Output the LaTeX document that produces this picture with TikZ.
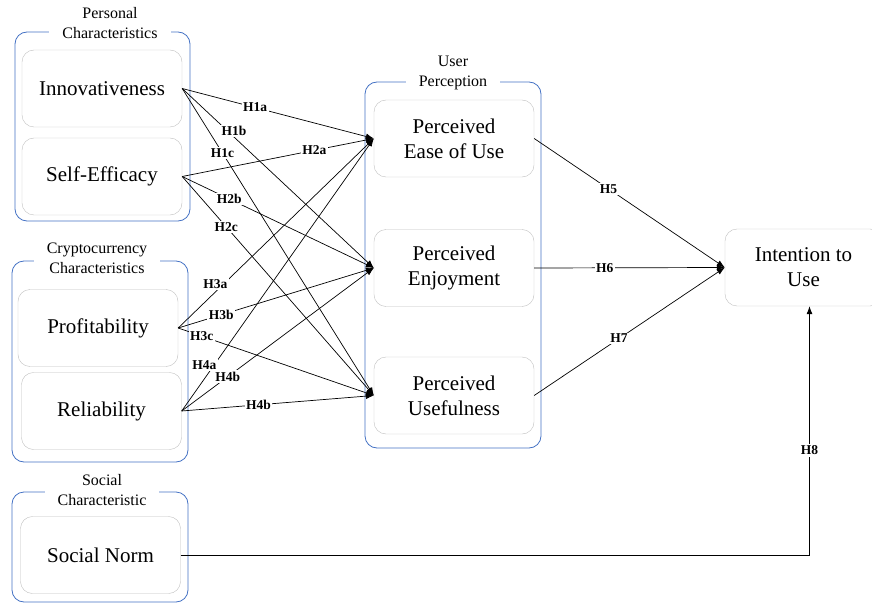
\documentclass[tikz,border=0pt]{standalone}
\usepackage{fontspec}
\setmainfont{Liberation Serif}
\usetikzlibrary{positioning, arrows.meta}
\definecolor{groupblue}{RGB}{68,114,196}

\begin{document}
\begin{tikzpicture}[
        x=1pt, y=-1pt,
        factor/.style={
            rectangle,
            rounded corners=12pt,
            draw=gray!50,
            minimum width=160pt,
            minimum height=77pt,
            align=center,
            inner sep=2pt,
            font=\fontsize{21}{25}\selectfont
        },
        groupbox/.style={draw=groupblue, rounded corners=12pt, line width=0.8pt},
        grouptitle/.style={fill=white, align=center, inner xsep=13pt, inner ysep=0pt,
            font=\fontsize{16}{20}\selectfont},
        hyp/.style={fill=white, inner sep=1.5pt, font=\fontsize{13.5}{15}\bfseries\selectfont},
        arrow/.style={-{Latex[length=8pt,width=6pt]}, line width=0.7pt}
    ]
    \useasboundingbox (0,0) rectangle (872,604);

    % --- Groups ---
    \draw[groupbox] (15,32) rectangle (190,221);
    \node[grouptitle] (personal) at (110,23) {Personal\\Characteristics};

    \draw[groupbox] (12,261) rectangle (188,462);
    \node[grouptitle] (crypto) at (97,258) {Cryptocurrency\\Characteristics};

    \draw[groupbox] (12,492) rectangle (188,602);
    \node[grouptitle] (social) at (102,490) {Social\\Characteristic};

    \draw[groupbox] (365,82) rectangle (541,448);
    \node[grouptitle] (user) at (453,73) {User\\Perception};

    % --- Nodes ---
    \node[factor] (innov) at (102,88.5) {Innovativeness};
    \node[factor] (selfeff) at (102,176.5) {Self-Efficacy};
    \node[factor] (profit) at (98,328) {Profitability};
    \node[factor] (reliab) at (101.5,411) {Reliability};
    \node[factor] (norm) at (100.5,555) {Social Norm};

    \node[factor] (peou) at (454,138.5) {Perceived\\Ease of Use};
    \node[factor] (pe) at (454,268) {Perceived\\Enjoyment};
    \node[factor] (pu) at (454,395.5) {Perceived\\Usefulness};

    \node[factor, minimum width=157pt] (intent) at (803.5,267.5) {Intention to\\Use};

    % --- Arrows ---
    \draw[arrow] (innov.east) -- node[hyp, pos=0.38] {H1a} (peou.west);
    \draw[arrow] (innov.east) -- node[hyp, pos=0.27, yshift=6pt] {H1b} (pe.west);
    \draw[arrow] (innov.east) -- node[hyp, pos=0.21] {H1c} (pu.west);

    \draw[arrow] (selfeff.east) -- node[hyp, pos=0.69] {H2a} (peou.west);
    \draw[arrow] (selfeff.east) -- node[hyp, pos=0.245] {H2b} (pe.west);
    \draw[arrow] (selfeff.east) -- node[hyp, pos=0.23] {H2c} (pu.west);

    \draw[arrow] (profit.east) -- node[hyp, pos=0.19, yshift=8pt] {H3a} (peou.west);
    \draw[arrow] (profit.east) -- node[hyp, pos=0.22] {H3b} (pe.west);
    \draw[arrow] (profit.east) -- node[hyp, pos=0.12] {H3c} (pu.west);

    \draw[arrow] (reliab.east) -- node[hyp, pos=0.17, xshift=-10pt] {H4a} (peou.west);
    \draw[arrow] (reliab.east) -- node[hyp, pos=0.24] {H4b} (pe.west);
    \draw[arrow] (reliab.east) -- node[hyp, pos=0.40] {H4b} (pu.west);

    \draw[arrow] (peou.east) -- node[hyp, pos=0.39] {H5} (intent.west);
    \draw[arrow] (pe.east) -- node[hyp, pos=0.37] {H6} (intent.west);
    \draw[arrow] (pu.east) -- node[hyp, pos=0.445] {H7} (intent.west);

    \draw[arrow] (norm.east) -| node[hyp, pos=0.71] {H8} ([xshift=6pt]intent.south);

\end{tikzpicture}
\end{document}
